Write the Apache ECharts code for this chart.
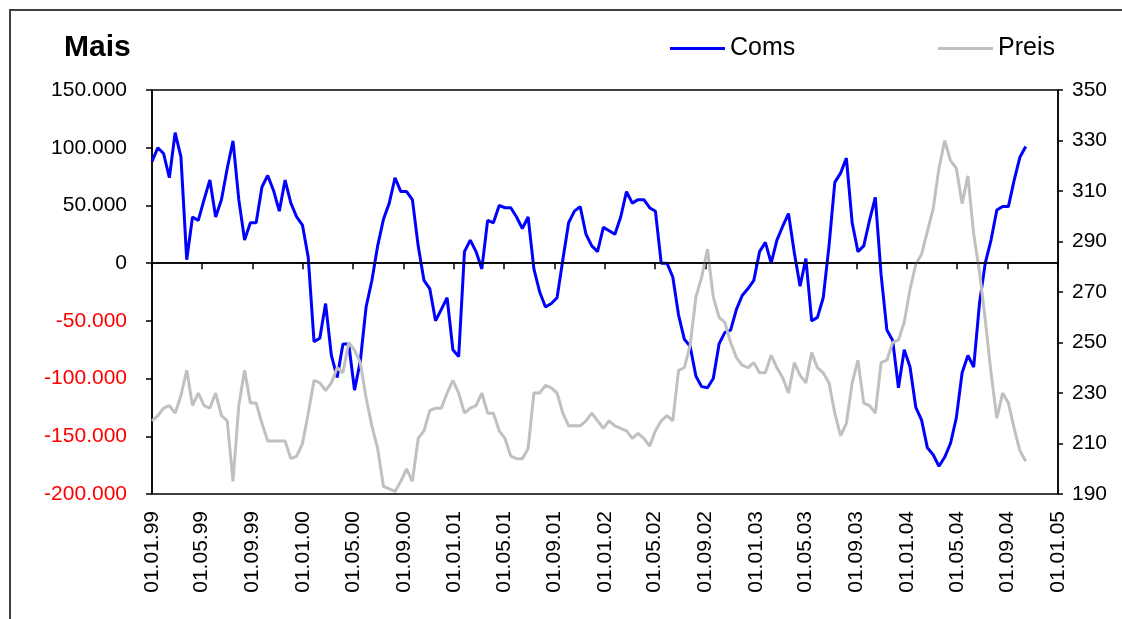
<!DOCTYPE html>
<html><head><meta charset="utf-8">
<script src="https://cdn.jsdelivr.net/npm/echarts@6/dist/echarts.min.js"></script>
<style>html,body{margin:0;padding:0;background:#fff}#c{width:1122px;height:619px}</style>
</head><body><div id="c"></div>
<script>
// ---- data ----
const tickLabels = ['01.01.99','01.05.99','01.09.99','01.01.00','01.05.00','01.09.00','01.01.01','01.05.01','01.09.01',
  '01.01.02','01.05.02','01.09.02','01.01.03','01.05.03','01.09.03','01.01.04','01.05.04','01.09.04','01.01.05'];
const preisTicks = [190, 210, 230, 250, 270, 290, 310, 330, 350];
const startDate = [1999, 0, 1];
const stepDays = 14;
const coms = [
  88000, 100000, 95000, 74000, 113000, 92000, 3000, 40000, 37000, 55000,
  72000, 40000, 55000, 82000, 106000, 55000, 20000, 35000, 35000, 66000,
  76000, 63000, 45000, 72000, 52000, 40000, 33000, 5000, -68000, -65000,
  -35000, -80000, -99000, -70000, -70000, -110000, -85000, -38000, -15000, 15000,
  38000, 52000, 74000, 62000, 62000, 55000, 15000, -15000, -22000, -50000,
  -40000, -30000, -75000, -81000, 10000, 20000, 10000, -5000, 37000, 35000,
  50000, 48000, 48000, 40000, 30000, 40000, -5000, -25000, -38000, -35000,
  -30000, 3000, 35000, 45000, 49000, 25000, 15000, 10000, 31000, 28000,
  25000, 40000, 62000, 52000, 55000, 55000, 48000, 45000, 0, 0,
  -12000, -45000, -66000, -72000, -98000, -107000, -108000, -100000, -70000, -60000,
  -58000, -40000, -28000, -22000, -15000, 10000, 18000, 0, 20000, 32000,
  43000, 9000, -20000, 4000, -50000, -47000, -30000, 15000, 70000, 78000,
  91000, 35000, 10000, 15000, 37000, 57000, -10000, -58000, -67000, -108000,
  -75000, -90000, -125000, -136000, -160000, -166000, -176000, -168000, -156000, -134000,
  -95000, -80000, -90000, -35000, 0, 20000, 46000, 49000, 49000, 72000,
  92000, 101000
];
const preis = [
  219, 221, 224, 225, 222, 229, 239, 225, 230, 225,
  224, 230, 221, 219, 195, 225, 239, 226, 226, 218,
  211, 211, 211, 211, 204, 205, 210, 222, 235, 234,
  231, 234, 240, 238, 250, 247, 242, 228, 217, 208,
  193, 192, 191, 195, 200, 195, 212, 215, 223, 224,
  224, 230, 235, 230, 222, 224, 225, 230, 222, 222,
  215, 212, 205, 204, 204, 208, 230, 230, 233, 232,
  230, 222, 217, 217, 217, 219, 222, 219, 216, 219,
  217, 216, 215, 212, 214, 212, 209, 215, 219, 221,
  219, 239, 240, 249, 268, 276, 287, 268, 260, 258,
  250, 244, 241, 240, 242, 238, 238, 245, 240, 236,
  230, 242, 237, 234, 246, 240, 238, 234, 222, 213,
  218, 234, 243, 226, 225, 222, 242, 243, 250, 251,
  258, 271, 281, 285, 294, 303, 319, 330, 322, 319,
  305, 316, 293, 278, 259, 238, 220, 230, 226, 216,
  207, 203
];

// ---- helpers ----
const DAY = 86400000;
function dayNum(y, m, d) { return Math.round(Date.UTC(y, m, d) / DAY); }
function parseLabel(s) {
  const p = s.split('.').map(Number);
  const y = p[2] > 50 ? 1900 + p[2] : 2000 + p[2];
  return dayNum(y, p[1] - 1, p[0]);
}
const tickValues = tickLabels.map(parseLabel);
const dates = coms.map((_, i) => dayNum(startDate[0], startDate[1], startDate[2] + i * stepDays));
function fmtDate(v) {
  const i = tickValues.indexOf(Math.round(v));
  return i >= 0 ? tickLabels[i] : '';
}
function fmtNum(v) {
  const s = String(Math.abs(Math.round(v))).replace(/\B(?=(\d{3})+(?!\d))/g, '.');
  return (v < 0 ? '-' : '') + s;
}

const FONT = '"Liberation Sans", Arial, sans-serif';
const chart = echarts.init(document.getElementById('c'), null, { renderer: 'canvas' });
chart.setOption({
  animation: false,
  backgroundColor: '#fff',
  textStyle: { fontFamily: FONT },
  title: {
    text: 'Mais', left: 64, top: 33, padding: 0,
    textStyle: { fontSize: 30, fontWeight: 'bold', color: '#000', fontFamily: FONT }
  },
  legend: [
    { data: ['Coms'], left: 670, top: 36, padding: 0, itemWidth: 55, itemHeight: 3, icon: 'rect',
      textStyle: { fontSize: 25, color: '#000', fontFamily: FONT } },
    { data: ['Preis'], left: 938, top: 36, padding: 0, itemWidth: 55, itemHeight: 3, icon: 'rect',
      textStyle: { fontSize: 25, color: '#000', fontFamily: FONT } }
  ],
  grid: { left: 152, top: 90, right: 64, bottom: 125, show: true, borderColor: '#000', borderWidth: 1.5, backgroundColor: '#fff' },
  xAxis: {
    type: 'value',
    min: tickValues[0], max: tickValues[tickValues.length - 1],
    splitLine: { show: false },
    axisLine: { lineStyle: { color: '#000', width: 1.5 } },
    axisTick: { show: true, customValues: tickValues, length: 6, lineStyle: { color: '#000', width: 1.5 } },
    axisLabel: { customValues: tickValues, rotate: 90, margin: 17, fontSize: 21, color: '#000', fontFamily: FONT, formatter: fmtDate }
  },
  yAxis: [
    {
      type: 'value', min: -200000, max: 150000, interval: 50000,
      splitLine: { show: false },
      axisLine: { show: true, lineStyle: { color: '#000', width: 1.5 } },
      axisTick: { show: true, length: 6, lineStyle: { color: '#000', width: 1.5 } },
      axisLabel: { margin: 25, fontSize: 21, fontFamily: FONT, formatter: fmtNum,
        color: function (v) { return Number(v) < 0 ? '#ff0000' : '#000'; } }
    },
    {
      type: 'value', position: 'right', min: 190, max: 350,
      splitLine: { show: false },
      axisLine: { show: true, lineStyle: { color: '#000', width: 1.5 } },
      axisTick: { show: true, customValues: preisTicks, length: 5, lineStyle: { color: '#000', width: 1.5 } },
      axisLabel: { customValues: preisTicks, margin: 14, fontSize: 21, color: '#000', fontFamily: FONT }
    }
  ],
  series: [
    {
      name: 'Coms', type: 'line', yAxisIndex: 0, symbol: 'none', showSymbol: false,
      data: dates.map((d, i) => [d, coms[i]]),
      lineStyle: { color: '#0000ff', width: 3 }, itemStyle: { color: '#0000ff' },
      markLine: { silent: true, symbol: 'none', label: { show: false },
        lineStyle: { color: '#000', width: 1.5, type: 'solid' }, data: [{ yAxis: 0 }] }
    },
    {
      name: 'Preis', type: 'line', yAxisIndex: 1, symbol: 'none', showSymbol: false,
      data: dates.map((d, i) => [d, preis[i]]),
      lineStyle: { color: '#c0c0c0', width: 3 }, itemStyle: { color: '#c0c0c0' }
    }
  ],
  graphic: [
    { type: 'rect', silent: true, z: 100, shape: { x: 10, y: 10, width: 1400, height: 900 },
      style: { fill: 'none', stroke: '#404040', lineWidth: 2 } }
  ]
});
</script>
</body></html>
